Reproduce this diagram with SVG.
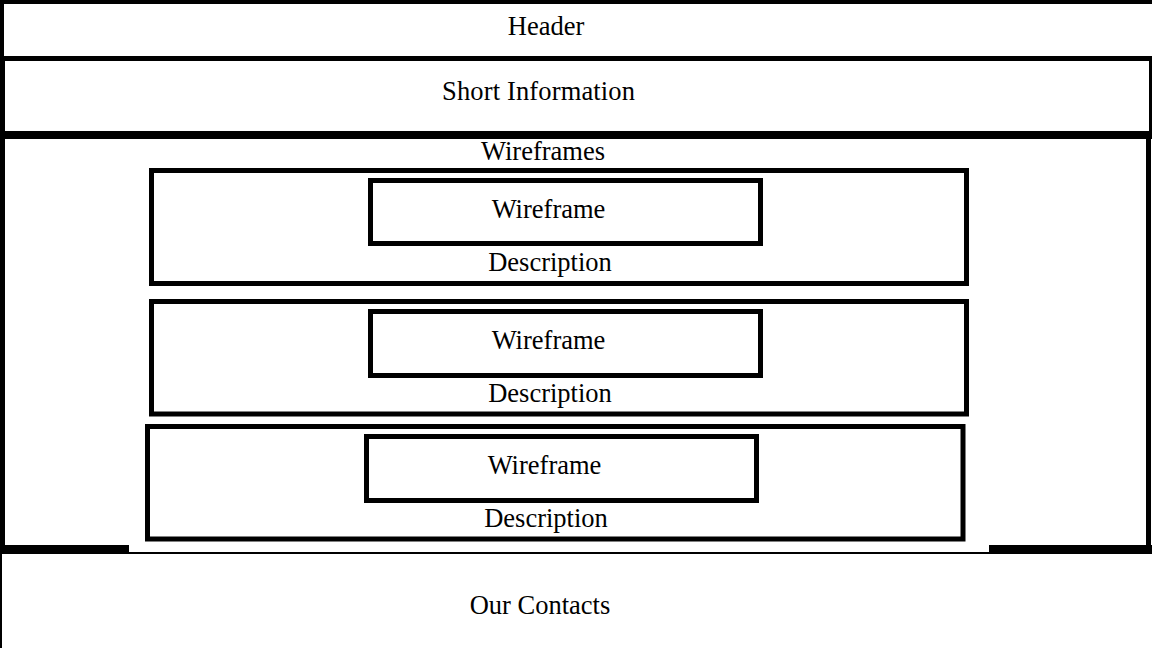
<svg xmlns="http://www.w3.org/2000/svg" width="1152" height="648" viewBox="0 0 1152 648">
  <style>
    .bar { fill: #000; }
    .box { fill: none; stroke: #000; stroke-width: 5; }
    .lbl { font-family: "Liberation Serif", "Times New Roman", serif; font-size: 26.5px; fill: #000; text-anchor: middle; }
  </style>
  <rect width="1152" height="648" fill="#fff"/>

  <!-- Header -->
  <g id="header">
    <rect class="bar" x="0" y="0" width="1152" height="4"/>
    <rect class="bar" x="0" y="0" width="4" height="58"/>
    <text class="lbl" x="546" y="35">Header</text>
  </g>

  <!-- Short information -->
  <g id="short-info">
    <rect class="bar" x="0" y="56" width="1152" height="5"/>
    <rect class="bar" x="0" y="56" width="5" height="80"/>
    <rect class="bar" x="1149" y="56" width="3" height="80"/>
    <text class="lbl" x="538.5" y="100" textLength="193">Short Information</text>
  </g>

  <!-- Wireframes section -->
  <g id="wireframes">
    <rect class="bar" x="0" y="131" width="1152" height="8"/>
    <rect class="bar" x="0" y="131" width="5" height="422"/>
    <rect class="bar" x="1146" y="131" width="5" height="422"/>
    <rect class="bar" x="0" y="545" width="129" height="8"/>
    <rect class="bar" x="989" y="545" width="163" height="8"/>
    <text class="lbl" x="543" y="160">Wireframes</text>
  </g>

  <g id="item-1">
    <rect class="box" x="151.5" y="170.5" width="815" height="113"/>
    <rect class="box" x="370.5" y="180.5" width="390" height="63"/>
    <text class="lbl" x="548.5" y="218">Wireframe</text>
    <text class="lbl" x="550" y="271">Description</text>
  </g>

  <g id="item-2">
    <rect class="box" x="151.5" y="301.5" width="815" height="112.5"/>
    <rect class="box" x="370.5" y="311.5" width="390" height="64"/>
    <text class="lbl" x="548.5" y="349">Wireframe</text>
    <text class="lbl" x="550" y="402">Description</text>
  </g>

  <g id="item-3">
    <rect class="box" x="147.5" y="426.5" width="815.5" height="112.5"/>
    <rect class="box" x="366.5" y="436.5" width="390" height="64"/>
    <text class="lbl" x="544.5" y="474">Wireframe</text>
    <text class="lbl" x="546" y="527">Description</text>
  </g>

  <!-- Contacts footer -->
  <g id="contacts">
    <rect class="bar" x="0" y="552" width="1152" height="2"/>
    <rect class="bar" x="0" y="552" width="2" height="96"/>
    <text class="lbl" x="540" y="614">Our Contacts</text>
  </g>
</svg>
